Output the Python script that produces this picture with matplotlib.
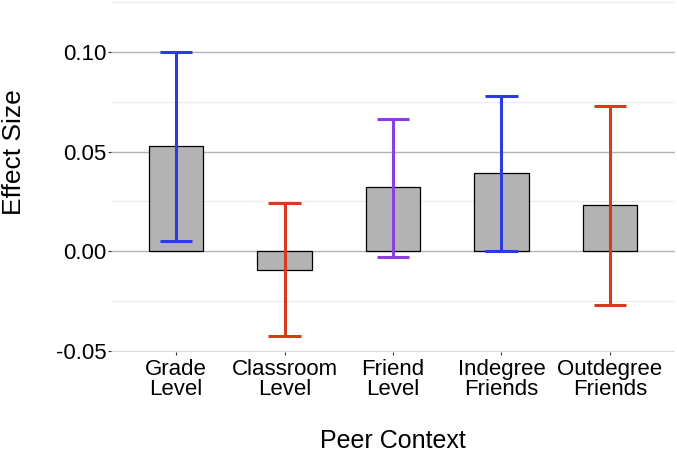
import matplotlib
matplotlib.use('Agg')
import matplotlib.pyplot as plt
import numpy as np

categories = ['Grade\nLevel', 'Classroom\nLevel', 'Friend\nLevel', 'Indegree\nFriends', 'Outdegree\nFriends']
effect = [0.0528, -0.0095, 0.032, 0.039, 0.023]
ci_low = [0.005, -0.0425, -0.003, 0.000, -0.027]
ci_high = [0.100, 0.024, 0.0665, 0.078, 0.073]
err_colors = ['#2B3BE3', '#D83A1C', '#8A3FE3', '#2B3BE3', '#D83A1C']

plt.rcParams['font.family'] = ['Liberation Sans', 'DejaVu Sans']

fig = plt.figure(figsize=(6.77, 4.53), dpi=100)
ax = fig.add_axes([0.164, 0.223, 0.833, 0.777])

x = np.arange(1, len(categories) + 1)

# grid lines (ggplot minimal look)
for v in [-0.025, 0.025, 0.075, 0.125]:
    ax.axhline(v, color='#EBEBEB', lw=0.8, zorder=0)
for v in [0.0, 0.05, 0.10]:
    ax.axhline(v, color='#B3B3B3', lw=1.0, zorder=0)
ax.axhline(-0.05, color='#DDDDDD', lw=1.0, zorder=0)

ax.bar(x, effect, width=0.5, color='#B3B3B3', edgecolor='black', linewidth=0.9, zorder=2)

for xi, lo, hi, c in zip(x, ci_low, ci_high, err_colors):
    ax.vlines(xi, lo, hi, color=c, lw=2.2, zorder=3)
    ax.hlines([lo, hi], xi - 0.15, xi + 0.15, color=c, lw=2.2, zorder=3)

ax.set_xlim(0.4, 5.6)
ax.set_ylim(-0.0505, 0.126)
ax.set_yticks([-0.05, 0.0, 0.05, 0.10])
ax.set_yticklabels(['-0.05', '0.00', '0.05', '0.10'])
ax.set_xticks(x)
ax.set_xticklabels(categories, linespacing=0.95)

for s in ax.spines.values():
    s.set_visible(False)
ax.tick_params(axis='both', labelsize=16, colors='#333333', length=2.2, width=0.8, labelcolor='black')
ax.tick_params(axis='y', pad=1)
ax.tick_params(axis='x', pad=3)

ax.set_ylabel('Effect Size', fontsize=19)
ax.yaxis.set_label_coords(-0.15, 0.568)
ax.set_xlabel('Peer Context', fontsize=18)
ax.xaxis.set_label_coords(0.5, -0.218)
ax.xaxis.label.set_va('top')

fig.savefig('out.png', dpi=100)
